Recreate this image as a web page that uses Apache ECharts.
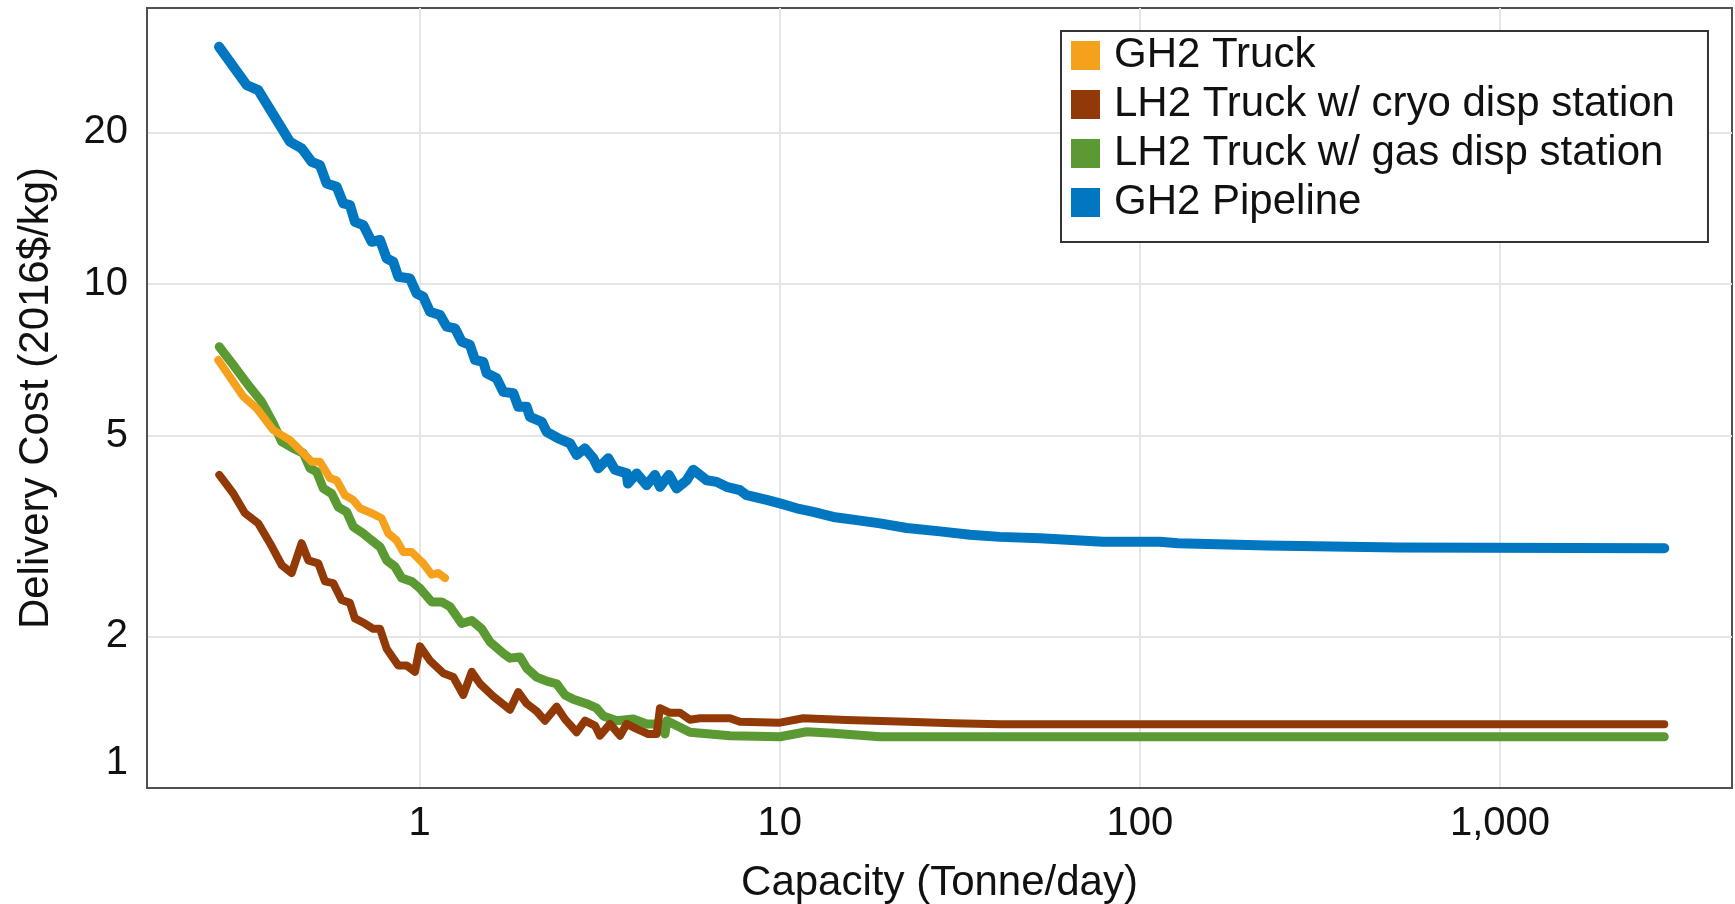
<!DOCTYPE html>
<html>
<head>
<meta charset="utf-8">
<title>Delivery Cost vs Capacity</title>
<script src="https://cdn.jsdelivr.net/npm/echarts@6/dist/echarts.min.js"></script>
<style>
html, body { margin: 0; padding: 0; background: #fff; }
#main { width: 1735px; height: 904px; }
</style>
</head>
<body>
<div id="main"></div>
<script>
// capacity (tonne/day) and delivery cost (2016$/kg)
var truckX = [0.2759, 0.3236, 0.3527, 0.3922, 0.4362, 0.4750, 0.5012, 0.5286, 0.5634, 0.5880, 0.6202, 0.6539, 0.6826, 0.7357, 0.7842, 0.8182, 0.8631, 0.9005, 0.9501, 1.023, 1.080, 1.126, 1.176];
var truckY = [7.07, 5.98, 5.67, 5.13, 4.90, 4.62, 4.44, 4.44, 4.12, 4.08, 3.81, 3.73, 3.59, 3.51, 3.43, 3.20, 3.10, 2.94, 2.94, 2.79, 2.65, 2.67, 2.61];

var cryoX = [0.2777, 0.3037, 0.3272, 0.3562, 0.3840, 0.4138, 0.4411, 0.4701, 0.4906, 0.5230, 0.5458, 0.5755, 0.6071, 0.6402, 0.6610, 0.7049, 0.7432, 0.7759, 0.8099, 0.8722, 0.9203, 0.9704, 1.002, 1.068, 1.163, 1.240, 1.322, 1.395, 1.471, 1.601, 1.781, 1.879, 1.982, 2.113, 2.228, 2.401, 2.532, 2.729, 2.877, 3.068, 3.167, 3.377, 3.600, 3.757, 4.005, 4.313, 4.551, 4.648, 4.956, 5.283, 5.631, 6.003, 7.273, 7.752, 10.01, 11.62, 15.34, 22.51, 30.33, 40.88, 2860];
var cryoY = [4.18, 3.84, 3.51, 3.35, 3.06, 2.77, 2.67, 3.06, 2.83, 2.79, 2.57, 2.55, 2.36, 2.33, 2.17, 2.12, 2.07, 2.07, 1.89, 1.75, 1.75, 1.70, 1.91, 1.79, 1.69, 1.66, 1.53, 1.70, 1.61, 1.52, 1.43, 1.55, 1.47, 1.42, 1.36, 1.45, 1.37, 1.29, 1.36, 1.33, 1.27, 1.34, 1.27, 1.34, 1.31, 1.28, 1.28, 1.44, 1.41, 1.41, 1.366, 1.375, 1.375, 1.353, 1.348, 1.375, 1.364, 1.353, 1.344, 1.338, 1.338];

var gasX = [0.2777, 0.3037, 0.3342, 0.3641, 0.3922, 0.4138, 0.4457, 0.4750, 0.4958, 0.5176, 0.5399, 0.5697, 0.5943, 0.6270, 0.6539, 0.6973, 0.7357, 0.7759, 0.8099, 0.8538, 0.8913, 0.9501, 1.002, 1.080, 1.151, 1.214, 1.308, 1.395, 1.486, 1.568, 1.707, 1.781, 1.899, 1.982, 2.113, 2.253, 2.401, 2.532, 2.670, 2.910, 3.101, 3.236, 3.525, 3.919, 4.270, 4.648, 4.799, 4.861, 5.283, 5.631, 6.400, 7.273, 10.01, 11.88, 14.08, 18.98, 50.48, 2860];
var gasY = [7.51, 6.91, 6.30, 5.84, 5.29, 4.87, 4.72, 4.62, 4.31, 4.24, 3.93, 3.84, 3.61, 3.53, 3.30, 3.20, 3.10, 3.01, 2.83, 2.75, 2.61, 2.57, 2.49, 2.34, 2.34, 2.29, 2.12, 2.15, 2.07, 1.95, 1.85, 1.81, 1.82, 1.73, 1.66, 1.63, 1.61, 1.53, 1.50, 1.47, 1.44, 1.39, 1.36, 1.37, 1.34, 1.34, 1.28, 1.36, 1.32, 1.29, 1.28, 1.27, 1.264, 1.293, 1.284, 1.264, 1.264, 1.264];

var pipeX = [0.2772, 0.3309, 0.3562, 0.4362, 0.4701, 0.5012, 0.5286, 0.5515, 0.5880, 0.6136, 0.6402, 0.6610, 0.6973, 0.7357, 0.7759, 0.8099, 0.8447, 0.8722, 0.9399, 0.9810, 1.023, 1.068, 1.139, 1.189, 1.253, 1.308, 1.379, 1.424, 1.502, 1.535, 1.636, 1.707, 1.820, 1.879, 1.982, 2.025, 2.182, 2.253, 2.427, 2.615, 2.729, 2.877, 3.035, 3.133, 3.340, 3.486, 3.757, 3.788, 4.005, 4.270, 4.502, 4.648, 4.924, 5.172, 5.514, 5.752, 6.003, 6.266, 6.679, 7.120, 7.752, 8.092, 9.197, 10.01, 11.14, 12.39, 14.08, 16.35, 18.98, 22.51, 27.86, 33.75, 40.88, 52.80, 78.99, 113.7, 127.6, 225.4, 520.9, 2860];
var pipeY = [29.57, 24.82, 24.26, 19.16, 18.59, 17.48, 17.22, 15.84, 15.60, 14.46, 14.35, 13.29, 13.09, 12.13, 12.23, 11.24, 11.07, 10.34, 10.26, 9.58, 9.44, 8.81, 8.68, 8.23, 8.17, 7.69, 7.57, 7.07, 7.01, 6.65, 6.50, 6.11, 6.07, 5.71, 5.71, 5.45, 5.33, 5.09, 4.94, 4.83, 4.58, 4.72, 4.51, 4.31, 4.51, 4.28, 4.21, 4.02, 4.21, 3.99, 4.18, 3.96, 4.18, 3.93, 4.08, 4.28, 4.18, 4.08, 4.05, 3.96, 3.90, 3.81, 3.73, 3.67, 3.59, 3.53, 3.45, 3.40, 3.35, 3.28, 3.23, 3.18, 3.15, 3.13, 3.08, 3.08, 3.06, 3.03, 3.00, 2.99];

var xTicks = [1, 10, 100, 1000];
var yTicks = [1, 2, 5, 10, 20];
var yGrid = [2, 5, 10, 20];

function pairs(xs, ys) {
  return xs.map(function (x, i) { return [x, ys[i]]; });
}

var font = "'Liberation Sans', Arial, sans-serif";

function lineSeries(name, xs, ys, color, width) {
  return {
    name: name,
    type: 'line',
    data: pairs(xs, ys),
    showSymbol: false,
    symbol: 'none',
    itemStyle: { color: color },
    lineStyle: { color: color, width: width, cap: 'round', join: 'round' }
  };
}

var chart = echarts.init(document.getElementById('main'));
chart.setOption({
  animation: false,
  backgroundColor: '#fff',
  textStyle: { fontFamily: font },
  grid: {
    left: 147, right: 3, top: 8, bottom: 116,
    outerBoundsMode: 'none', // keep the plot box fixed, the axis title may touch the bottom edge
    show: true, borderColor: '#505050', borderWidth: 2
  },
  legend: {
    orient: 'vertical',
    left: 1061, top: 31,
    padding: [0, 33, 15, 10],
    itemGap: 0,
    itemWidth: 29, itemHeight: 29,
    icon: 'rect',
    borderColor: '#333', borderWidth: 2,
    backgroundColor: '#fff',
    textStyle: { fontFamily: font, fontSize: 42, lineHeight: 49, color: '#111', padding: [0, 0, 0, 9] },
    data: ['GH2 Truck', 'LH2 Truck w/ cryo disp station', 'LH2 Truck w/ gas disp station', 'GH2 Pipeline']
  },
  xAxis: {
    type: 'log',
    logBase: 10,
    min: 0.1749, max: 4410,
    name: 'Capacity (Tonne/day)',
    nameLocation: 'middle',
    nameGap: 74,
    nameTextStyle: { fontFamily: font, fontSize: 42, color: '#111' },
    axisLine: { show: true, lineStyle: { color: '#505050', width: 2 } },
    axisTick: { show: false, customValues: xTicks },
    axisLabel: {
      customValues: xTicks,
      margin: 16,
      fontFamily: font, fontSize: 40, color: '#111',
      formatter: function (v) { return Math.round(v).toLocaleString('en-US'); }
    },
    splitLine: { show: true, lineStyle: { color: '#e6e6e6', width: 2 } }
  },
  yAxis: {
    type: 'log',
    logBase: 10,
    min: 1, max: 35.3,
    name: 'Delivery Cost (2016$/kg)',
    nameLocation: 'middle',
    nameGap: 90,
    nameTextStyle: { fontFamily: font, fontSize: 42, color: '#111' },
    axisLine: { show: true, lineStyle: { color: '#505050', width: 2 } },
    axisTick: { show: false, customValues: yGrid },
    axisLabel: {
      customValues: yTicks,
      margin: 19,
      fontFamily: font, fontSize: 40, color: '#111',
      // the bottom "1" sits a little above the axis line
      formatter: function (v) { return Math.round(v) === 1 ? '{low|1}' : String(Math.round(v)); },
      rich: { low: { fontFamily: font, fontSize: 40, color: '#111', padding: [0, 0, 50, 0] } }
    },
    splitLine: { show: true, lineStyle: { color: '#e6e6e6', width: 2 } }
  },
  series: [
    lineSeries('GH2 Pipeline', pipeX, pipeY, '#0077c0', 10),
    lineSeries('LH2 Truck w/ gas disp station', gasX, gasY, '#5b9a33', 9),
    lineSeries('LH2 Truck w/ cryo disp station', cryoX, cryoY, '#913a07', 8),
    lineSeries('GH2 Truck', truckX, truckY, '#f5a11c', 8)
  ]
});
</script>
</body>
</html>
